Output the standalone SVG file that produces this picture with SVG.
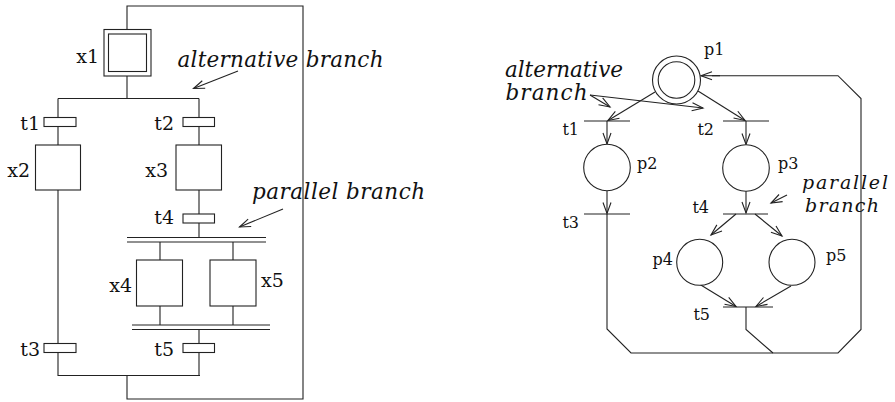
<svg xmlns="http://www.w3.org/2000/svg" width="895" height="402" viewBox="0 0 895 402">
<style>
.ln{fill:none;stroke:#222;stroke-width:1.1}
.bx{fill:#fff;stroke:#222;stroke-width:1.1}
.lb{font-family:"DejaVu Serif",serif;font-size:19px;fill:#111}
.lr{font-family:"DejaVu Serif",serif;font-size:16px;fill:#111}
.it{font-family:"DejaVu Serif",serif;font-style:italic;font-size:21.5px;fill:#111}
.its{font-family:"DejaVu Serif",serif;font-style:italic;font-size:19px;fill:#111}
.ar{fill:none;stroke:#222;stroke-width:1.1;marker-end:url(#ah)}
</style>
<defs>
<marker id="ah" markerUnits="userSpaceOnUse" markerWidth="14" markerHeight="12" viewBox="-12 -6 14 12" refX="0" refY="0" orient="auto">
<path d="M-11,-4 L0,0 L-11,4" fill="none" stroke="#222" stroke-width="1.1"/>
</marker>
</defs>
<rect width="895" height="402" fill="#fff"/>
<g id="connectors">
<path class="ln" d="M127,29 V6 H303 V399 H127 V375.5"/>
<path class="ln" d="M127,76 V98.5 M58,98.5 H199"/>
<path class="ln" d="M58,98.5 V117 M58,127 V145 M58,190 V343 M58,352 V375.5 H200"/>
<path class="ln" d="M199,98.5 V117 M199,127 V145 M199,190 V214 M199,223 V237.5"/>
<path class="ln" d="M127,237.5 H266 M127,242 H266"/>
<path class="ln" d="M160,242 V260 M233,242 V260 M160,306 V325 M233,306 V325"/>
<path class="ln" d="M132,325 H270 M132,329.5 H270"/>
<path class="ln" d="M199,329.5 V343 M199,352 V375.5"/>
<path class="ar" d="M655,92 L608,120.5"/>
<path class="ar" d="M698,91 L745,120.5"/>
<path class="ar" d="M607,121 V144"/>
<path class="ar" d="M746,121 V144.5"/>
<path class="ar" d="M607,191 V213.5"/>
<path class="ar" d="M746,191 V213"/>
<path class="ar" d="M736,214 L711,235"/>
<path class="ar" d="M755,214 L782,236"/>
<path class="ar" d="M700,284.5 L736,306.5"/>
<path class="ar" d="M791,286 L756,306.5"/>
<path class="ln" d="M607,214 V329 L631,353 H838 L861,329.5 V98.5 L838,75.7 H712"/>
<path class="ar" d="M720,75.7 H701"/>
<path class="ln" d="M746,307 V329.5 L773,353"/>
</g>
<g id="sfc-x1">
<rect class="bx" x="104" y="29.5" width="47" height="46.5"/>
<rect class="bx" x="108.5" y="34" width="38" height="37.5"/>
<text class="lb" x="99" y="63" text-anchor="end">x1</text>
</g>
<g id="sfc-t1">
<rect class="bx" x="44" y="117.5" width="32" height="9"/>
<text class="lb" x="40" y="130" text-anchor="end">t1</text>
</g>
<g id="sfc-t2">
<rect class="bx" x="183" y="117.5" width="31.5" height="9"/>
<text class="lb" x="174" y="130" text-anchor="end">t2</text>
</g>
<g id="sfc-x2">
<rect class="bx" x="35.5" y="145" width="45" height="45"/>
<text class="lb" x="30" y="177" text-anchor="end">x2</text>
</g>
<g id="sfc-x3">
<rect class="bx" x="176" y="145" width="45.5" height="45"/>
<text class="lb" x="168" y="177" text-anchor="end">x3</text>
</g>
<g id="sfc-t4">
<rect class="bx" x="183" y="214" width="31.5" height="9"/>
<text class="lb" x="174" y="224" text-anchor="end">t4</text>
</g>
<g id="sfc-x4">
<rect class="bx" x="136.5" y="260" width="46" height="46"/>
<text class="lb" x="132" y="292" text-anchor="end">x4</text>
</g>
<g id="sfc-x5">
<rect class="bx" x="210" y="260" width="46" height="46"/>
<text class="lb" x="261" y="287">x5</text>
</g>
<g id="sfc-t3">
<rect class="bx" x="44" y="343.5" width="32" height="9"/>
<text class="lb" x="40" y="356" text-anchor="end">t3</text>
</g>
<g id="sfc-t5">
<rect class="bx" x="183" y="343.5" width="31.5" height="9"/>
<text class="lb" x="174" y="356" text-anchor="end">t5</text>
</g>
<g id="sfc-annot-alt">
<text class="it" x="177.5" y="66.5" textLength="206" lengthAdjust="spacing">alternative branch</text>
<path class="ar" d="M238,71 L193.5,88.5"/>
</g>
<g id="sfc-annot-par">
<text class="it" x="252" y="199" textLength="173" lengthAdjust="spacing">parallel branch</text>
<path class="ar" d="M283,209 L239.5,227"/>
</g>
<g id="pn-p1">
<circle class="bx" cx="676.5" cy="80" r="24"/>
<circle class="bx" cx="676.5" cy="80" r="18.3"/>
<text class="lr" x="704" y="55">p1</text>
</g>
<g id="pn-t1">
<path class="ln" d="M584,121 H630"/>
<text class="lr" x="579" y="135" text-anchor="end">t1</text>
</g>
<g id="pn-t2">
<path class="ln" d="M723,121 H769"/>
<text class="lr" x="714" y="135" text-anchor="end">t2</text>
</g>
<g id="pn-p2">
<circle class="bx" cx="607" cy="167.5" r="23.3"/>
<text class="lr" x="637" y="169">p2</text>
</g>
<g id="pn-p3">
<circle class="bx" cx="746" cy="168" r="23.3"/>
<text class="lr" x="778" y="169">p3</text>
</g>
<g id="pn-t3">
<path class="ln" d="M584,214 H630"/>
<text class="lr" x="579" y="228" text-anchor="end">t3</text>
</g>
<g id="pn-t4">
<path class="ln" d="M723,214 H768"/>
<text class="lr" x="709" y="213" text-anchor="end">t4</text>
</g>
<g id="pn-p4">
<circle class="bx" cx="699.7" cy="262.3" r="23"/>
<text class="lr" x="673" y="265" text-anchor="end">p4</text>
</g>
<g id="pn-p5">
<circle class="bx" cx="792" cy="262.3" r="23"/>
<text class="lr" x="826" y="261">p5</text>
</g>
<g id="pn-t5">
<path class="ln" d="M723,307 H773"/>
<text class="lr" x="710" y="320" text-anchor="end">t5</text>
</g>
<g id="pn-annot-alt">
<text class="it" x="505" y="77" textLength="118" lengthAdjust="spacing">alternative</text>
<text class="it" x="505.5" y="100" textLength="82" lengthAdjust="spacing">branch</text>
<path class="ar" d="M590,95 L610,107"/>
<path class="ar" d="M590,95 L703,108"/>
</g>
<g id="pn-annot-par">
<text class="its" x="802" y="189" textLength="86" lengthAdjust="spacing">parallel</text>
<text class="its" x="805" y="212" textLength="74" lengthAdjust="spacing">branch</text>
<path class="ar" d="M787,195 L771,203"/>
</g>
</svg>
